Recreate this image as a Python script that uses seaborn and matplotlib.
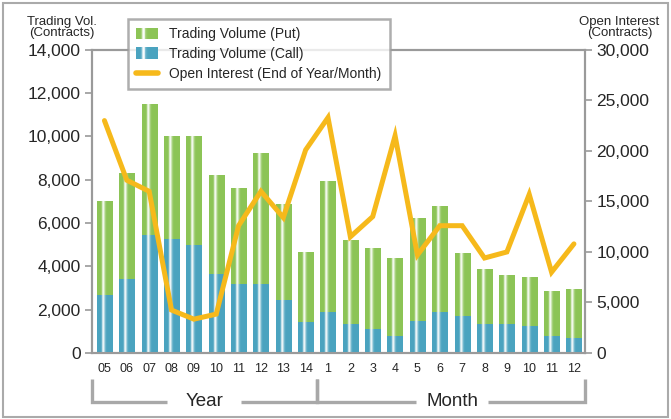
import numpy as np
import pandas as pd
import matplotlib
matplotlib.use("Agg")
import matplotlib.pyplot as plt
import seaborn as sns
from matplotlib.patches import Rectangle
from matplotlib.lines import Line2D
from matplotlib.legend_handler import HandlerBase
from matplotlib.ticker import FuncFormatter
import matplotlib.transforms as mtrans

# ---- data ----
cat_keys = ["Y05", "Y06", "Y07", "Y08", "Y09", "Y10", "Y11", "Y12", "Y13", "Y14",
            "M1", "M2", "M3", "M4", "M5", "M6", "M7", "M8", "M9", "M10", "M11", "M12"]
x_labels = ["05", "06", "07", "08", "09", "10", "11", "12", "13", "14",
            "1", "2", "3", "4", "5", "6", "7", "8", "9", "10", "11", "12"]
vol_total = [7000, 8300, 11500, 10000, 10000, 8200, 7600, 9250, 6900, 4650,
             7950, 5200, 4850, 4400, 6250, 6800, 4600, 3900, 3600, 3500, 2850, 2950]
vol_call = [2700, 3400, 5450, 5250, 5000, 3650, 3200, 3200, 2450, 1450,
            1900, 1350, 1100, 800, 1500, 1900, 1700, 1350, 1350, 1250, 800, 700]
open_interest = [23000, 17100, 16000, 4250, 3350, 3850, 12600, 16000, 13400, 20100,
                 23300, 11500, 13500, 21500, 9700, 12600, 12600, 9400, 10000, 15700, 8000, 10800]
group_names = ["Year", "Month"]

GREEN = "#8cc456"
BLUE = "#4aa3bf"
ORANGE = "#f6b91b"
GRAY = "#9a9a9a"

df = pd.DataFrame({"key": cat_keys, "total": vol_total, "call": vol_call,
                   "pos": np.arange(len(cat_keys)), "oi": open_interest})

sns.set_theme(style="white")
plt.rcParams["font.family"] = ["Liberation Sans", "DejaVu Sans"]

fig = plt.figure(figsize=(6.71, 4.19), dpi=100)
ax = fig.add_axes([0.137, 0.1575, 0.735, 0.7235])


def grad_colors(base, n=60, peak=0.38):
    rgb = np.array(matplotlib.colors.to_rgb(base))
    xs = np.linspace(0, 1, n)
    sig = np.where(xs < peak, 0.07, 0.12)
    t = np.exp(-((xs - peak) / sig) ** 2) * 0.97
    return np.clip(rgb[None, :] * (1 - t[:, None]) + t[:, None], 0, 1)


sns.barplot(data=df, x="key", y="total", order=cat_keys, color=GREEN, width=0.68,
            saturation=1, ax=ax, zorder=2, linewidth=0)
n_green = len(ax.patches)
sns.barplot(data=df, x="key", y="call", order=cat_keys, color=BLUE, width=0.68,
            saturation=1, ax=ax, zorder=3, linewidth=0)

for i, p in enumerate(list(ax.patches)):
    base = GREEN if i < n_green else BLUE
    z = p.get_zorder()
    x0, y0 = p.get_x(), p.get_y()
    w, h = p.get_width(), p.get_height()
    img = grad_colors(base)[None, :, :]
    im = ax.imshow(img, extent=[x0, x0 + w, y0, y0 + h], aspect="auto",
                   interpolation="bilinear", zorder=z + 0.5)
    im.set_clip_path(p)

ax.set_xlim(-0.56, 21.5)
ax.set_ylim(0, 14000)
ax.set_yticks(np.arange(0, 14001, 2000))
ax.yaxis.set_major_formatter(FuncFormatter(lambda v, _: f"{int(v):,}"))
ax.set_xticks(np.arange(len(cat_keys)))
ax.set_xticklabels(x_labels, fontsize=9)
ax.set_xticks(np.arange(-0.5, len(cat_keys)), minor=True)
ax.tick_params(axis="x", which="major", length=0, pad=7)
ax.tick_params(axis="x", which="minor", length=6, width=1.2, color=GRAY, direction="out")
ax.tick_params(axis="y", length=5, width=1.2, color=GRAY, direction="out", labelsize=12.5, pad=3)
ax.set_xlabel("")
ax.set_ylabel("")
for s in ax.spines.values():
    s.set_color(GRAY)
    s.set_linewidth(1.5)

ax2 = ax.twinx()
sns.lineplot(data=df, x="pos", y="oi", ax=ax2, color=ORANGE, linewidth=3.6,
             solid_joinstyle="miter", zorder=5)
ax2.set_xlim(-0.56, 21.5)
ax2.set_ylim(0, 30000)
ax2.set_yticks(np.arange(0, 30001, 5000))
ax2.yaxis.set_major_formatter(FuncFormatter(lambda v, _: f"{int(v):,}"))
ax2.tick_params(axis="y", length=5, width=1.2, color=GRAY, direction="out", labelsize=12.5, pad=3)
ax2.set_xlabel("")
ax2.set_ylabel("")
for s in ax2.spines.values():
    s.set_color(GRAY)
    s.set_linewidth(1.5)

# axis titles
fig.text(0.092, 0.962, "Trading Vol.\n(Contracts)", ha="center", va="top", fontsize=9.5,
         linespacing=0.95)
fig.text(0.923, 0.962, "Open Interest\n(Contracts)", ha="center", va="top", fontsize=9.5,
         linespacing=0.95)


# legend with gradient patches
class GradHandler(HandlerBase):
    def __init__(self, base):
        super().__init__()
        self.base = base

    def create_artists(self, legend, orig_handle, xdescent, ydescent, width, height,
                       fontsize, trans):
        cols = grad_colors(self.base, 24, peak=0.3)
        n = len(cols)
        arts = []
        for i, c in enumerate(cols):
            r = Rectangle((-xdescent + width * i / n, -ydescent), width / n + 0.3, height,
                          facecolor=c, edgecolor="none", transform=trans)
            arts.append(r)
        return arts


h_put = Rectangle((0, 0), 1, 1, color=GREEN)
h_call = Rectangle((0, 0), 1, 1, color=BLUE)
h_oi = Line2D([0], [0], color=ORANGE, linewidth=4, solid_capstyle="round")
leg = ax2.legend([h_put, h_call, h_oi],
                 ["Trading Volume (Put)", "Trading Volume (Call)", "Open Interest (End of Year/Month)"],
                 handler_map={h_put: GradHandler(GREEN), h_call: GradHandler(BLUE)},
                 loc="upper left", bbox_to_anchor=(0.191, 0.955), bbox_transform=fig.transFigure,
                 borderaxespad=0, fontsize=10, frameon=True, fancybox=False,
                 handlelength=1.55, handleheight=0.9, handletextpad=0.8, labelspacing=0.42,
                 borderpad=0.6)
leg.get_frame().set_edgecolor(GRAY)
leg.get_frame().set_linewidth(1.8)
leg.set_zorder(10)

# group brackets
blend = mtrans.blended_transform_factory(ax.transData, ax.transAxes)
y_top, y_bot = -0.085, -0.16
groups = [(-0.56, 9.5, group_names[0]), (9.5, 21.5, group_names[1])]
for gi, (a, b, name) in enumerate(groups):
    mid = (a + b) / 2
    gap = 1.65 if gi == 0 else 1.6
    if gi == 1:
        mid = 15.55
    ax.plot([a, a, mid - gap], [y_top, y_bot, y_bot], color="#a8a8a8", lw=2.4,
            transform=blend, clip_on=False, solid_capstyle="butt", solid_joinstyle="miter")
    ax.plot([mid + gap, b, b], [y_bot, y_bot, y_top], color="#a8a8a8", lw=2.4,
            transform=blend, clip_on=False, solid_capstyle="butt", solid_joinstyle="miter")
    ax.text(mid, y_bot, name, transform=blend, ha="center", va="center", fontsize=13.5)

# figure border
fig.patches.append(Rectangle((0.004, 0.004), 0.992, 0.99, transform=fig.transFigure,
                             fill=False, edgecolor="#aaaaaa", linewidth=1.5))

fig.savefig("out.png", dpi=100)
